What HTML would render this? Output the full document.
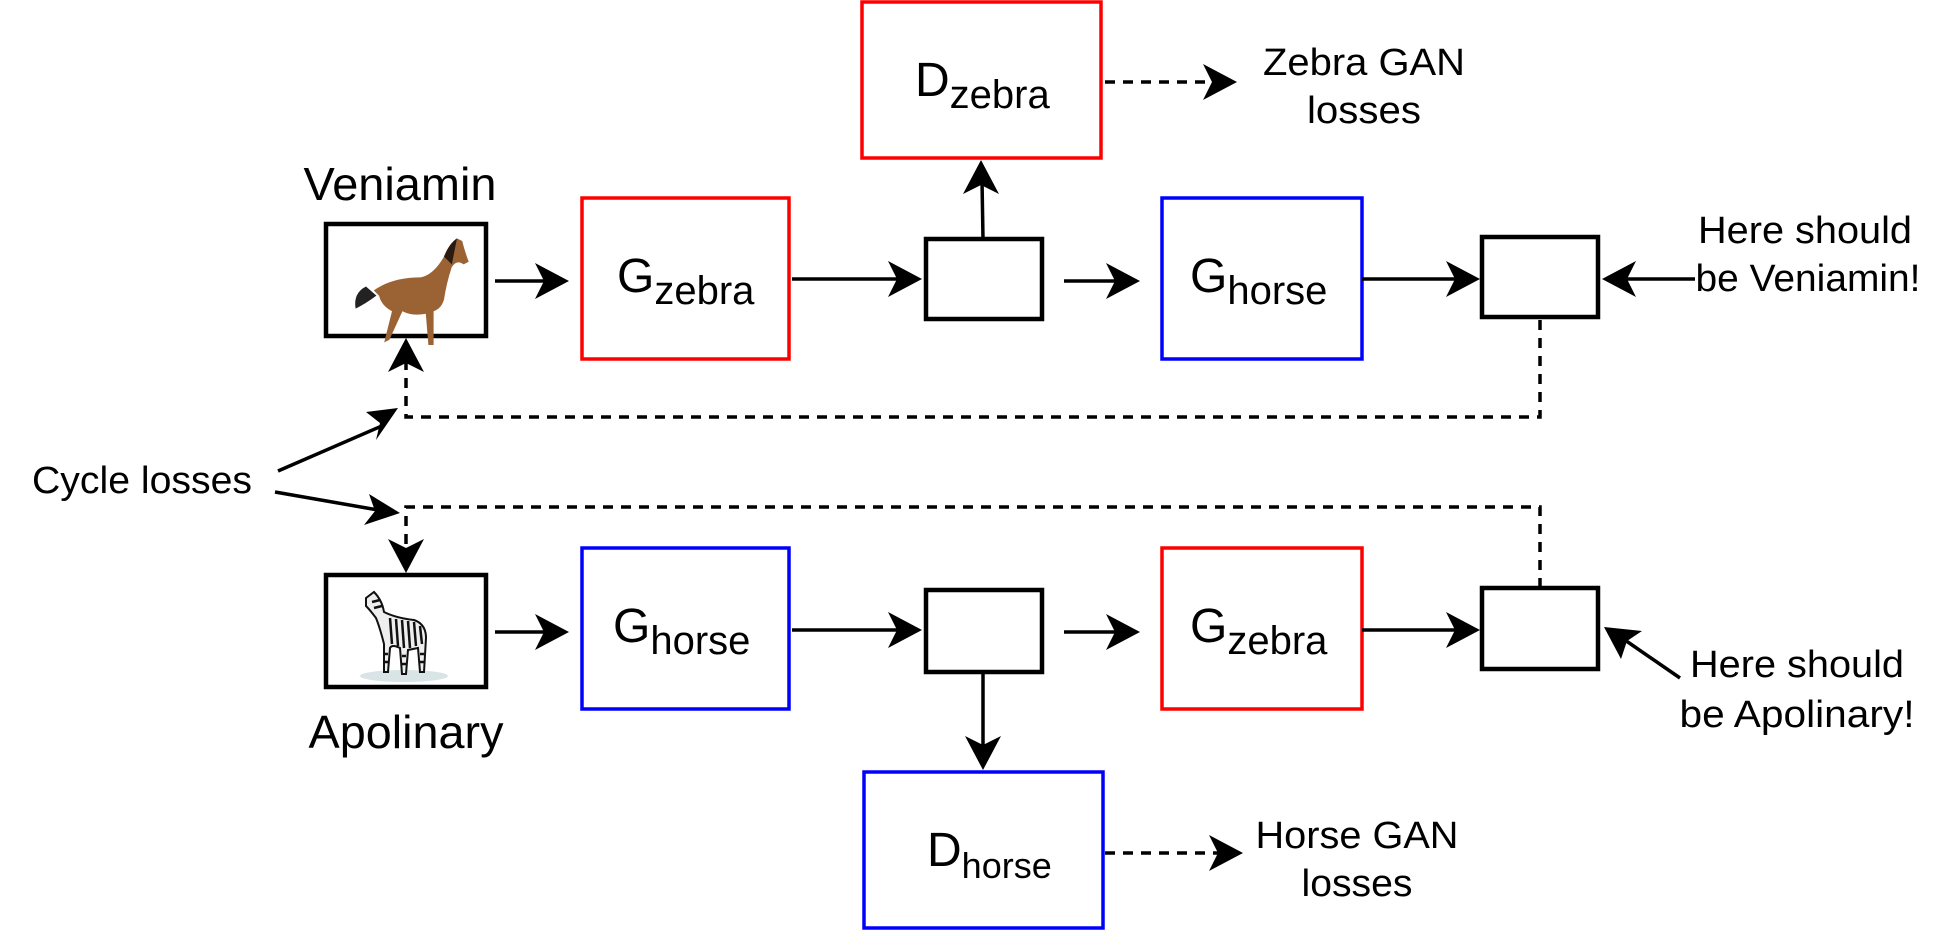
<!DOCTYPE html>
<html><head><meta charset="utf-8"><style>
html,body{margin:0;padding:0;background:#fff;}
svg{display:block;}
text{font-family:"Liberation Sans",sans-serif;fill:#000;}
</style></head><body>
<svg width="1940" height="936" viewBox="0 0 1940 936" xmlns="http://www.w3.org/2000/svg">
<g fill="none" stroke-width="4">
<rect x="862" y="2" width="239" height="156" stroke="#ff0000" stroke-width="3.5"/>
<rect x="582" y="198" width="207" height="161" stroke="#ff0000" stroke-width="3.5"/>
<rect x="1162" y="198" width="200" height="161" stroke="#0000ff" stroke-width="3.5"/>
<rect x="582" y="548" width="207" height="161" stroke="#0000ff" stroke-width="3.5"/>
<rect x="1162" y="548" width="200" height="161" stroke="#ff0000" stroke-width="3.5"/>
<rect x="864" y="772" width="239" height="156" stroke="#0000ff" stroke-width="3.5"/>
<rect x="326" y="224" width="160" height="112" stroke="#000" stroke-width="4.5"/>
<rect x="326" y="575" width="160" height="112" stroke="#000" stroke-width="4.5"/>
<rect x="926" y="239" width="116" height="80" stroke="#000" stroke-width="4.5"/>
<rect x="1482" y="237" width="116" height="80" stroke="#000" stroke-width="4.5"/>
<rect x="926" y="590" width="116" height="82" stroke="#000" stroke-width="4.5"/>
<rect x="1482" y="588" width="116" height="81" stroke="#000" stroke-width="4.5"/>
</g>
<g stroke="#000" stroke-width="3.5" fill="none">
<line x1="495" y1="281" x2="550" y2="281"/>
<line x1="792" y1="279" x2="905" y2="279"/>
<line x1="1064" y1="281" x2="1122" y2="281"/>
<line x1="1362" y1="279" x2="1462" y2="279"/>
<line x1="495" y1="632" x2="550" y2="632"/>
<line x1="792" y1="630" x2="905" y2="630"/>
<line x1="1064" y1="632" x2="1122" y2="632"/>
<line x1="1362" y1="630" x2="1462" y2="630"/>
<line x1="983" y1="239" x2="982" y2="180"/>
<line x1="983" y1="672" x2="983" y2="750"/>
<line x1="1695" y1="279" x2="1620" y2="279"/>
<line x1="1680" y1="678" x2="1622" y2="638"/>
<line x1="278" y1="471" x2="384" y2="425"/>
<line x1="275" y1="492" x2="378" y2="510"/>
<g stroke-dasharray="10,8" stroke-width="3.5">
<polyline points="1540,320 1540,417 406,417 406,360"/>
<polyline points="1540,588 1540,507 406,507 406,552"/>
<line x1="1105" y1="82" x2="1215" y2="82"/>
<line x1="1105" y1="853" x2="1222" y2="853"/>
</g>
</g>
<g fill="#000" stroke="none">
<path d="M569,281 L535,263 L544,281 L535,299 Z"/>
<path d="M922,279 L888,261 L897,279 L888,297 Z"/>
<path d="M1140,281 L1106,263 L1115,281 L1106,299 Z"/>
<path d="M1480,279 L1446,261 L1455,279 L1446,297 Z"/>
<path d="M569,632 L535,614 L544,632 L535,650 Z"/>
<path d="M922,630 L888,612 L897,630 L888,648 Z"/>
<path d="M1140,632 L1106,614 L1115,632 L1106,650 Z"/>
<path d="M1480,630 L1446,612 L1455,630 L1446,648 Z"/>
<path d="M981,160 L963,194 L981,185 L999,194 Z"/>
<path d="M983,770 L965,736 L983,745 L1001,736 Z"/>
<path d="M1602,279 L1636,261 L1627,279 L1636,297 Z"/>
<path d="M1604,627 L1642,631 L1627,641 L1621,659 Z"/>
<path d="M1237,82 L1203,64 L1212,82 L1203,100 Z"/>
<path d="M1243,853 L1209,835 L1218,853 L1209,871 Z"/>
<path d="M406,338 L388,372 L406,363 L424,372 Z"/>
<path d="M406,573 L388,539 L406,548 L424,539 Z"/>
<path d="M398,408 L376,440 L380,423 L366,412 Z"/>
<path d="M400,513 L364,525 L375,511 L369,494 Z"/>
</g>
<!-- horse -->
<g transform="translate(340,228) scale(1.3)">
<path d="M20,45 Q10,50 12,62 Q20,58 28,52 Z" fill="#222"/>
<path d="M26,48 Q40,38 62,38 Q72,36 80,22 Q84,12 90,8 L94,10 Q96,18 99,26 L95,28 Q90,24 86,30 Q82,42 80,55 Q78,62 72,64 L72,90 L68,90 L66,66 Q56,68 48,64 L38,86 L34,88 L40,64 Q32,60 30,52 Z" fill="#9b6234"/>
<path d="M80,22 Q84,12 90,8 L86,28 Z" fill="#2a1a10"/>
</g>
<!-- zebra -->
<g transform="translate(352,588)">
<ellipse cx="52" cy="88" rx="44" ry="6" fill="#d8e4e6"/>
<path d="M14,10 L22,4 Q30,12 32,24 Q44,30 62,32 Q74,36 74,50 L72,84 L68,84 L66,60 L56,62 L54,86 L50,86 L48,60 Q40,56 38,60 L36,84 L32,84 L32,56 Q28,40 24,30 Q18,22 14,18 Z" fill="#eee" stroke="#111" stroke-width="2"/>
<g stroke="#111" stroke-width="2.5">
<line x1="38" y1="30" x2="40" y2="56"/><line x1="44" y1="31" x2="46" y2="58"/>
<line x1="50" y1="32" x2="52" y2="60"/><line x1="56" y1="33" x2="58" y2="60"/>
<line x1="62" y1="34" x2="64" y2="58"/><line x1="68" y1="38" x2="70" y2="56"/>
<line x1="20" y1="14" x2="28" y2="12"/><line x1="22" y1="20" x2="30" y2="18"/>
<line x1="32" y1="66" x2="36" y2="66"/><line x1="32" y1="74" x2="36" y2="74"/>
<line x1="50" y1="68" x2="54" y2="68"/><line x1="50" y1="76" x2="54" y2="76"/>
<line x1="68" y1="66" x2="72" y2="66"/><line x1="68" y1="74" x2="72" y2="74"/>
</g>
</g>
<text x="400" y="200" font-size="46" text-anchor="middle" textLength="193" lengthAdjust="spacingAndGlyphs">Veniamin</text>
<text x="406" y="748" font-size="46" text-anchor="middle" textLength="195" lengthAdjust="spacingAndGlyphs">Apolinary</text>
<text x="142" y="493" font-size="38" text-anchor="middle" textLength="220" lengthAdjust="spacingAndGlyphs">Cycle losses</text>
<text x="1364" y="75" font-size="38" text-anchor="middle" textLength="202" lengthAdjust="spacingAndGlyphs">Zebra GAN</text>
<text x="1364" y="123" font-size="38" text-anchor="middle" textLength="114" lengthAdjust="spacingAndGlyphs">losses</text>
<text x="1357" y="848" font-size="38" text-anchor="middle" textLength="203" lengthAdjust="spacingAndGlyphs">Horse GAN</text>
<text x="1357" y="896" font-size="38" text-anchor="middle" textLength="111" lengthAdjust="spacingAndGlyphs">losses</text>
<text x="1805" y="243" font-size="38" text-anchor="middle" textLength="214" lengthAdjust="spacingAndGlyphs">Here should</text>
<text x="1808" y="291" font-size="38" text-anchor="middle" textLength="225" lengthAdjust="spacingAndGlyphs">be Veniamin!</text>
<text x="1797" y="677" font-size="38" text-anchor="middle" textLength="214" lengthAdjust="spacingAndGlyphs">Here should</text>
<text x="1797" y="727" font-size="38" text-anchor="middle" textLength="235" lengthAdjust="spacingAndGlyphs">be Apolinary!</text>
<text x="617" y="292" font-size="48">G<tspan font-size="40" dy="12">zebra</tspan></text>
<text x="1190" y="292" font-size="48">G<tspan font-size="40" dy="12">horse</tspan></text>
<text x="613" y="642" font-size="48">G<tspan font-size="40" dy="12">horse</tspan></text>
<text x="1190" y="642" font-size="48">G<tspan font-size="40" dy="12">zebra</tspan></text>
<text x="915" y="96" font-size="48">D<tspan font-size="40" dy="12">zebra</tspan></text>
<text x="927" y="866" font-size="48">D<tspan font-size="36" dy="12">horse</tspan></text>
</svg>
</body></html>
